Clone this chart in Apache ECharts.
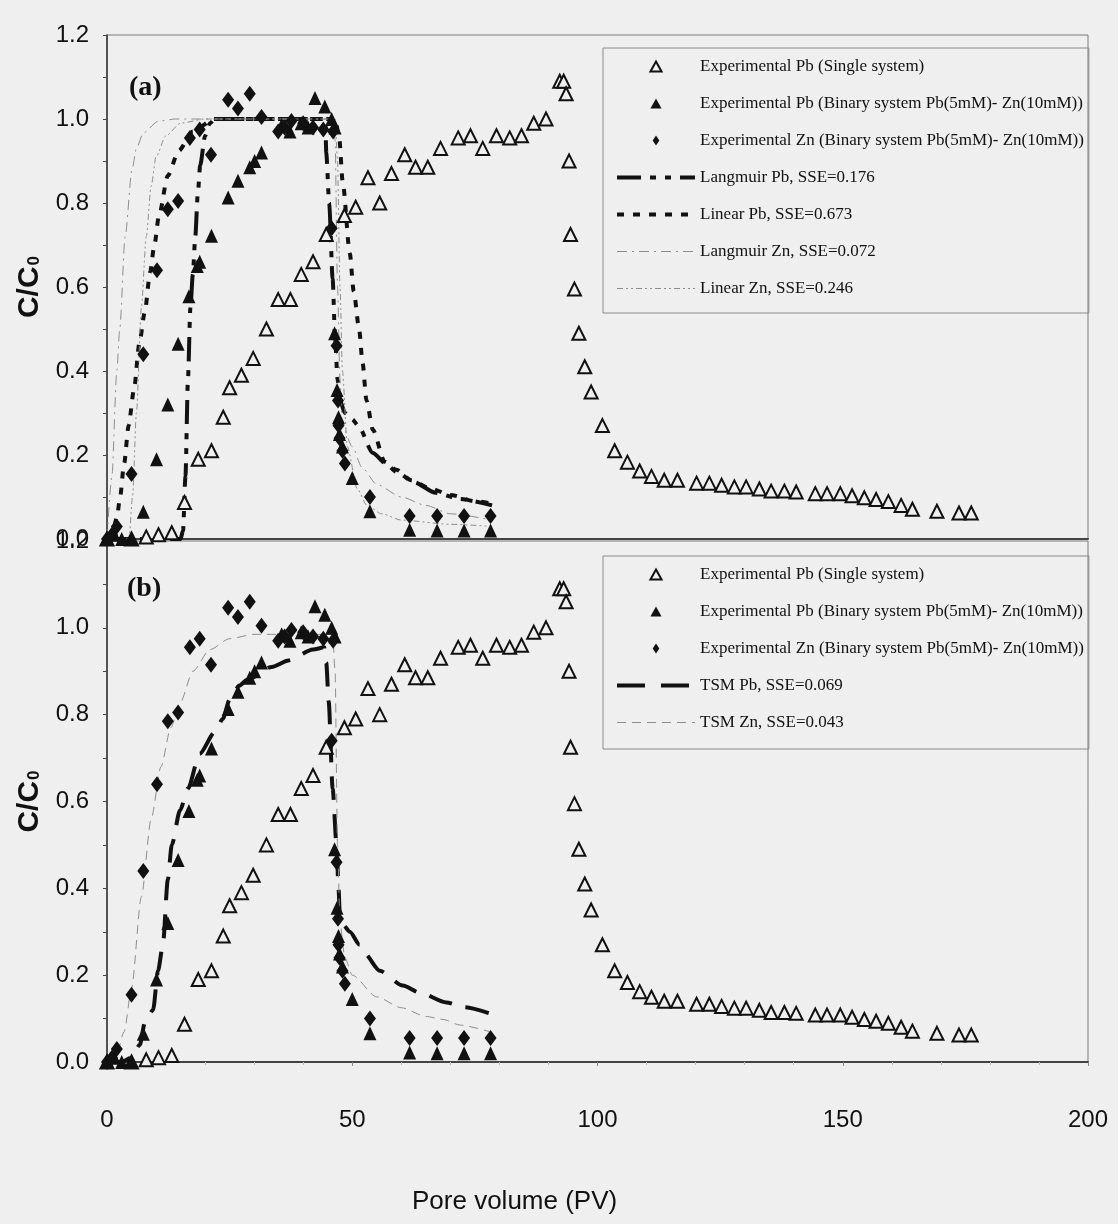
<!DOCTYPE html>
<html>
<head>
<meta charset="utf-8">
<script src="https://cdn.jsdelivr.net/npm/echarts@6/dist/echarts.min.js"></script>
<style>
  html, body { margin: 0; padding: 0; background: #efefef; }
  #chart { width: 1118px; height: 1224px; }
</style>
</head>
<body>
<div id="chart"></div>
<script>
// Pore volume (PV) vs relative concentration C/C0 — [PV, C/C0] pairs

// Experimental Pb, single system (open triangles)
const pbSingle = [
  [0, 0], [5, 0], [8, 0.005], [10.5, 0.01], [13.2, 0.015], [15.8, 0.087], [18.6, 0.19], [21.3, 0.21],
  [23.7, 0.29], [25.0, 0.36], [27.4, 0.39], [29.8, 0.43], [32.5, 0.50], [34.9, 0.57], [37.4, 0.57],
  [39.6, 0.63], [42.0, 0.66], [44.7, 0.725], [48.4, 0.77], [50.7, 0.79], [53.2, 0.86], [55.6, 0.80],
  [58.0, 0.87], [60.7, 0.915], [62.9, 0.885], [65.4, 0.885], [68.0, 0.93], [71.6, 0.955], [74.1, 0.96],
  [76.6, 0.93], [79.4, 0.96], [82.1, 0.955], [84.5, 0.96], [87.0, 0.99], [89.5, 1.0], [92.3, 1.09],
  [93.1, 1.09], [93.6, 1.06], [94.2, 0.90], [94.5, 0.725], [95.3, 0.595], [96.2, 0.49], [97.4, 0.41],
  [98.7, 0.35], [101.0, 0.27], [103.5, 0.21], [106.1, 0.183], [108.6, 0.162], [111.0, 0.149],
  [113.6, 0.14], [116.3, 0.14], [120.2, 0.133], [122.8, 0.133], [125.3, 0.128], [127.9, 0.124],
  [130.3, 0.124], [133.0, 0.119], [135.4, 0.114], [138.1, 0.114], [140.5, 0.112], [144.4, 0.108],
  [146.8, 0.108], [149.5, 0.108], [151.9, 0.103], [154.4, 0.098], [156.8, 0.094], [159.3, 0.089],
  [161.9, 0.08], [164.2, 0.071], [169.2, 0.066], [173.7, 0.062], [176.2, 0.062]
];

// Experimental Pb, binary system Pb(5mM)-Zn(10mM) (filled triangles)
const pbBinary = [
  [0, 0], [1.5, 0.01], [3, 0], [5, 0], [7.4, 0.065], [10.1, 0.19], [12.4, 0.32], [14.5, 0.465],
  [16.7, 0.578], [18.4, 0.65], [18.9, 0.66], [21.3, 0.722], [24.7, 0.813], [26.7, 0.853], [29.1, 0.885],
  [30.1, 0.90], [31.5, 0.92], [35.6, 0.985], [37.3, 0.97], [39.6, 0.99], [41.0, 0.98], [42.4, 1.05],
  [44.4, 1.03], [45.8, 1.0], [46.5, 0.98], [46.4, 0.49], [46.9, 0.355], [47.2, 0.29], [47.4, 0.25],
  [48.0, 0.22], [50.0, 0.145], [53.6, 0.066], [61.7, 0.022], [67.3, 0.02], [72.8, 0.02], [78.2, 0.02]
];

// Experimental Zn, binary system Pb(5mM)-Zn(10mM) (filled diamonds)
const znBinary = [
  [0, 0], [1, 0.01], [2, 0.03], [5, 0.155], [7.4, 0.44], [10.2, 0.64], [12.4, 0.785], [14.5, 0.805],
  [16.9, 0.955], [18.9, 0.975], [21.2, 0.915], [24.7, 1.046], [26.7, 1.025], [29.1, 1.06], [31.5, 1.005],
  [34.9, 0.97], [36.2, 0.98], [37.6, 0.995], [40.0, 0.99], [42.0, 0.98], [44.1, 0.975], [46.1, 0.97],
  [45.8, 0.74], [46.8, 0.46], [47.1, 0.33], [47.2, 0.27], [47.4, 0.24], [48.0, 0.21], [48.5, 0.18],
  [53.6, 0.10], [61.7, 0.055], [67.3, 0.055], [72.8, 0.055], [78.2, 0.055]
];

// Panel (a) model curves
const langmuirPb = [
  [0, 0], [15, 0], [15.5, 0.02], [16, 0.15], [16.5, 0.38], [17, 0.55], [17.5, 0.63], [18, 0.72],
  [18.5, 0.82], [19, 0.89], [20, 0.96], [21, 0.99], [22, 1.0], [44.5, 1.0], [44.7, 0.92], [45.3, 0.8],
  [46, 0.62], [46.5, 0.48], [47, 0.38], [47.5, 0.33], [48.5, 0.30], [50, 0.285], [51.2, 0.27],
  [54.2, 0.205], [56.8, 0.18], [59, 0.16], [62.6, 0.135], [67, 0.11], [72, 0.095], [78.5, 0.08]
];
const linearPb = [
  [0, 0], [1, 0.01], [2, 0.05], [2.6, 0.093], [3.5, 0.18], [4.4, 0.27], [5.5, 0.356], [6.6, 0.466],
  [7.7, 0.54], [8.8, 0.636], [9.6, 0.695], [10.6, 0.77], [12.4, 0.865], [14.6, 0.924], [17.5, 0.97],
  [21.8, 1.0], [46.5, 1.0], [47.3, 0.96], [48.1, 0.845], [49.5, 0.68], [50.3, 0.59], [51.4, 0.50],
  [52.1, 0.42], [52.9, 0.33], [54.2, 0.26], [56.6, 0.184], [59, 0.165], [62, 0.14], [66, 0.12],
  [70, 0.105], [75, 0.09], [79, 0.083]
];
const langmuirZn = [
  [0, 0], [1, 0.15], [2, 0.4], [2.6, 0.5], [3.7, 0.72], [5.1, 0.88], [6, 0.93], [7.4, 0.967],
  [10.5, 0.995], [14, 1.0], [46, 1.0], [46.5, 0.95], [47, 0.6], [47.5, 0.38], [48, 0.27], [50, 0.22],
  [52, 0.17], [55, 0.13], [60, 0.1], [65, 0.08], [70, 0.06], [78.5, 0.045]
];
const linearZn = [
  [0, 0], [4.5, 0], [5.2, 0.1], [6, 0.3], [7, 0.55], [8, 0.72], [9, 0.84], [10, 0.91], [12, 0.96],
  [15, 0.99], [20, 1.0], [46.5, 1.0], [47, 0.9], [47.5, 0.6], [48, 0.4], [49, 0.22], [51, 0.12],
  [53, 0.08], [56, 0.06], [60, 0.045], [70, 0.035], [78.5, 0.03]
];

// Panel (b) model curves
const tsmPb = [
  [0, 0], [3, 0], [5, 0.01], [6.7, 0.04], [7.7, 0.09], [9.4, 0.12], [10.4, 0.21], [11.4, 0.27],
  [12.4, 0.42], [13.2, 0.5], [14.9, 0.58], [16.5, 0.63], [18.9, 0.71], [22, 0.76], [23.6, 0.79],
  [25, 0.835], [27, 0.867], [28.5, 0.88], [33.6, 0.91], [37, 0.925], [42, 0.95], [44.3, 0.955],
  [44.7, 0.92], [45.2, 0.83], [46, 0.63], [46.8, 0.5], [47.2, 0.4], [47.5, 0.33], [48.2, 0.315],
  [49.5, 0.30], [51.5, 0.27], [52.5, 0.25], [55.6, 0.21], [60.3, 0.176], [63.7, 0.16], [69.2, 0.137],
  [72.9, 0.126], [78, 0.112]
];
const tsmZn = [
  [0, 0], [2, 0.02], [3.5, 0.07], [5, 0.17], [7, 0.38], [9, 0.56], [11, 0.68], [13, 0.77], [15, 0.83],
  [17.5, 0.9], [21, 0.95], [25, 0.975], [30, 0.985], [46, 0.985], [46.5, 0.9], [47, 0.5], [47.5, 0.32],
  [48.5, 0.24], [50, 0.2], [55, 0.15], [60, 0.125], [65, 0.105], [68.5, 0.098], [72, 0.085], [78, 0.07]
];

// Axis ticks
const xTicks = { min: 0, max: 200, step: 50 };
const yTicks = { min: 0, max: 1.2, step: 0.1 };

const NAMES = {
  pbSingle: 'Experimental Pb (Single system)',
  pbBinary: 'Experimental Pb (Binary system Pb(5mM)- Zn(10mM))',
  znBinary: 'Experimental Zn (Binary system Pb(5mM)- Zn(10mM))',
  langmuirPb: 'Langmuir Pb, SSE=0.176',
  linearPb: 'Linear Pb, SSE=0.673',
  langmuirZn: 'Langmuir Zn, SSE=0.072',
  linearZn: 'Linear Zn, SSE=0.246',
  tsmPb: 'TSM Pb, SSE=0.069',
  tsmZn: 'TSM Zn, SSE=0.043'
};

const BG = '#efefef';
const INK = '#111111';
const GREY = '#8c8c8c';
const SANS = "'Liberation Sans', Arial, sans-serif";
const SERIF = "'Liberation Serif', 'Times New Roman', serif";

// Line styles of the fitted curves
const DASH = {
  langmuirPb: [24, 9, 6, 9, 6, 9],
  linearPb: [7, 9],
  langmuirZn: [10, 5, 2, 5],
  linearZn: [6, 3, 2, 3, 2, 3],
  tsmPb: [24, 14],
  tsmZn: [9, 6]
};

// Legend glyphs for the marker series (paths keep their aspect ratio)
const TRI_PATH = 'path://M5,0L10,9L0,9Z';
const DIA_PATH = 'path://M4,0L8,6L4,12L0,6Z';

function experimental(gi) {
  return [
    {
      name: NAMES.pbSingle, type: 'scatter', xAxisIndex: gi, yAxisIndex: gi, z: 4,
      symbol: 'triangle', symbolSize: [13, 13],
      itemStyle: { color: BG, borderColor: INK, borderWidth: 2, opacity: 1 },
      data: pbSingle
    },
    {
      name: NAMES.pbBinary, type: 'scatter', xAxisIndex: gi, yAxisIndex: gi, z: 4,
      symbol: 'triangle', symbolSize: [13, 14],
      itemStyle: { color: INK, opacity: 1 },
      data: pbBinary
    },
    {
      name: NAMES.znBinary, type: 'scatter', xAxisIndex: gi, yAxisIndex: gi, z: 4,
      symbol: 'diamond', symbolSize: [12, 16],
      itemStyle: { color: INK, opacity: 1 },
      data: znBinary
    }
  ];
}

function curve(name, data, gi, color, width, dash) {
  return {
    name, type: 'line', xAxisIndex: gi, yAxisIndex: gi, z: 3,
    symbol: 'none', smooth: 0.25, smoothMonotone: 'x',
    lineStyle: { color, width, type: dash, cap: 'butt' },
    itemStyle: { color },
    data
  };
}

const series = [
  ...experimental(0),
  curve(NAMES.langmuirPb, langmuirPb, 0, INK, 4, DASH.langmuirPb),
  curve(NAMES.linearPb, linearPb, 0, INK, 4, DASH.linearPb),
  curve(NAMES.langmuirZn, langmuirZn, 0, GREY, 1, DASH.langmuirZn),
  curve(NAMES.linearZn, linearZn, 0, GREY, 1, DASH.linearZn),
  ...experimental(1),
  curve(NAMES.tsmPb, tsmPb, 1, INK, 4, DASH.tsmPb),
  curve(NAMES.tsmZn, tsmZn, 1, GREY, 1, DASH.tsmZn)
];

function xAxis(gi, showLabels) {
  return {
    type: 'value', gridIndex: gi, min: xTicks.min, max: xTicks.max, interval: xTicks.step,
    axisLine: { onZero: false, lineStyle: { color: '#444', width: 2 } },
    axisTick: { show: showLabels, length: 4, lineStyle: { color: '#888' } },
    minorTick: { show: showLabels, splitNumber: 5, length: 3, lineStyle: { color: '#bbb' } },
    axisLabel: { show: showLabels, color: INK, fontFamily: SANS, fontSize: 24, margin: 46 },
    splitLine: { show: false }
  };
}

function yAxis(gi) {
  return {
    type: 'value', gridIndex: gi, min: yTicks.min, max: yTicks.max, interval: yTicks.step,
    axisLine: { show: true, lineStyle: { color: '#333', width: 1.5 } },
    axisTick: { show: true, length: 4, lineStyle: { color: '#444' } },
    axisLabel: {
      color: INK, fontFamily: SANS, fontSize: 24, margin: 18,
      formatter: v => { const k = Math.round(v * 10); return k % 2 === 0 ? (k / 10).toFixed(1) : ''; }
    },
    splitLine: { show: false },
    name: '{c|C/C}{s|0}', nameLocation: 'middle', nameGap: 62, nameRotate: 90,
    nameTextStyle: {
      rich: {
        c: { fontFamily: SANS, fontWeight: 'bold', fontSize: 30, color: INK },
        s: { fontFamily: SANS, fontWeight: 'bold', fontSize: 17, color: INK, padding: [10, 0, 0, 1] }
      }
    }
  };
}

// Marker entries use a path icon; curve entries show only the dashed stroke
function markerEntry(name, icon) {
  return { name, icon, symbolKeepAspect: true };
}
function curveEntry(name, color, width, dash) {
  return { name, itemStyle: { opacity: 0 }, lineStyle: { color, width, type: dash, cap: 'butt' } };
}

function legend(entries, top, padding) {
  return {
    orient: 'vertical', left: 603, top, padding,
    itemWidth: 78, itemHeight: 10, itemGap: 20, symbolKeepAspect: true,
    borderColor: '#8a8a8a', borderWidth: 1,
    textStyle: { fontFamily: SERIF, fontSize: 17, lineHeight: 17, color: INK },
    data: entries
  };
}

const markerEntries = [
  markerEntry(NAMES.pbSingle, TRI_PATH),
  markerEntry(NAMES.pbBinary, TRI_PATH),
  markerEntry(NAMES.znBinary, DIA_PATH)
];

const option = {
  backgroundColor: BG,
  animation: false,
  grid: [
    { left: 107, top: 35, width: 981, height: 504, show: true, borderColor: '#7a7a7a', borderWidth: 1, backgroundColor: 'transparent' },
    { left: 107, top: 541, width: 981, height: 521, show: true, borderColor: '#7a7a7a', borderWidth: 1, backgroundColor: 'transparent' }
  ],
  xAxis: [xAxis(0, false), xAxis(1, true)],
  yAxis: [yAxis(0), yAxis(1)],
  legend: [
    legend([
      ...markerEntries,
      curveEntry(NAMES.langmuirPb, INK, 4, DASH.langmuirPb),
      curveEntry(NAMES.linearPb, INK, 4, DASH.linearPb),
      curveEntry(NAMES.langmuirZn, GREY, 1, DASH.langmuirZn),
      curveEntry(NAMES.linearZn, GREY, 1, DASH.linearZn)
    ], 48, [10, 5, 16, 12]),
    legend([
      ...markerEntries,
      curveEntry(NAMES.tsmPb, INK, 4, [28, 16]),
      curveEntry(NAMES.tsmZn, GREY, 1, DASH.tsmZn)
    ], 556, [10, 5, 18, 12])
  ],
  title: {
    text: 'Pore volume (PV)', left: 407, top: 1184,
    textStyle: { fontFamily: SANS, fontSize: 26, fontWeight: 'normal', color: INK }
  },
  graphic: [
    { type: 'text', left: 129, top: 74, style: { text: '(a)', font: "bold 28px 'Liberation Serif'", fill: INK } },
    { type: 'text', left: 127, top: 575, style: { text: '(b)', font: "bold 28px 'Liberation Serif'", fill: INK } }
  ],
  series
};

const chart = echarts.init(document.getElementById('chart'), null, { renderer: 'canvas' });
chart.setOption(option);
</script>
</body>
</html>
